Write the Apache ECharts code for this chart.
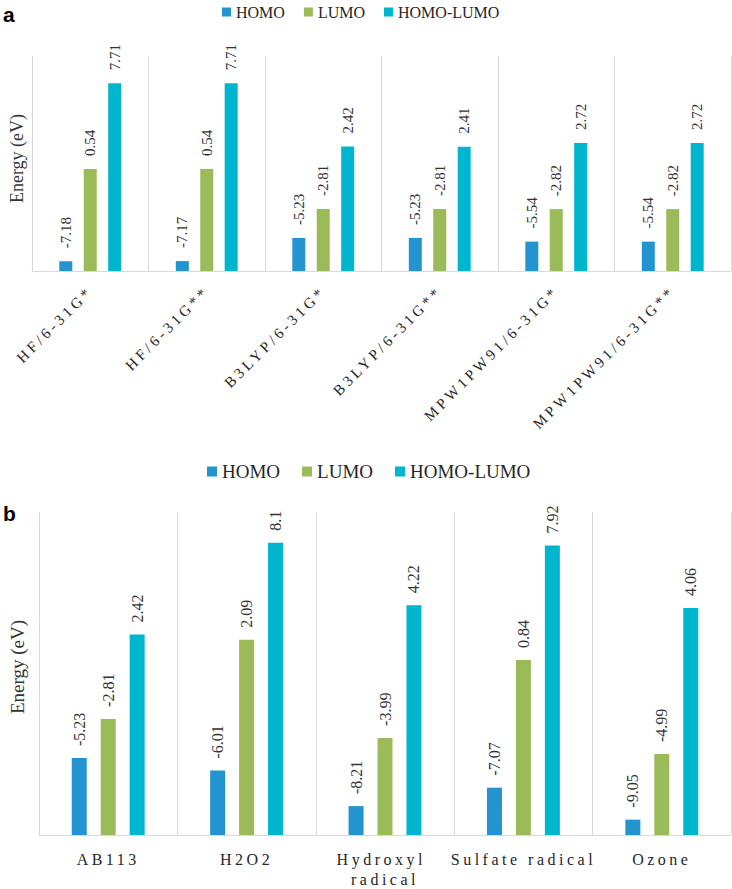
<!DOCTYPE html>
<html><head><meta charset="utf-8">
<script src="https://cdn.jsdelivr.net/npm/echarts@6/dist/echarts.min.js"></script>
<style>html,body{margin:0;padding:0;background:#fff}#c{width:732px;height:889px}</style>
</head><body><div id="c"></div>
<script>
const seriesNames = ['HOMO', 'LUMO', 'HOMO-LUMO'];
const methodsA = ['HF/6-31G*', 'HF/6-31G**', 'B3LYP/6-31G*', 'B3LYP/6-31G**', 'MPW1PW91/6-31G*', 'MPW1PW91/6-31G**'];
const homoA = [-7.18, -7.17, -5.23, -5.23, -5.54, -5.54];
const lumoA = [0.54, 0.54, -2.81, -2.81, -2.82, -2.82];
const gapA = [7.71, 7.71, 2.42, 2.41, 2.72, 2.72];
const speciesB = ['AB113', 'H2O2', 'Hydroxyl radical', 'Sulfate radical', 'Ozone'];
const homoB = [-5.23, -6.01, -8.21, -7.07, -9.05];
const lumoB = [-2.81, 2.09, -3.99, 0.84, -4.99];
const gapB = [2.42, 8.1, 4.22, 7.92, 4.06];
const colors = ['#2494d0', '#9bbb59', '#00b6cf'];
const SERIF = 'Liberation Serif';
const SANS = 'Liberation Sans';

function mkSeries(name, data, idx, color, bw, gap, fs, dist) {
  return {
    name: name, type: 'bar', xAxisIndex: idx, yAxisIndex: idx, data: data,
    barWidth: bw, barGap: gap, itemStyle: { color: color },
    label: {
      show: true, position: 'top', distance: dist, rotate: 90,
      align: 'left', verticalAlign: 'middle',
      fontSize: fs, fontFamily: SERIF, color: '#333'
    }
  };
}

const chart = echarts.init(document.getElementById('c'), null, { renderer: 'svg' });
chart.setOption({
  animation: false,
  color: colors,
  textStyle: { fontFamily: SERIF },
  title: [
    { text: 'a', left: 3, top: 4, padding: 0, textStyle: { fontSize: 21, fontWeight: 'bold', fontFamily: SANS, color: '#000' } },
    { text: 'b', left: 3, top: 503, padding: 0, textStyle: { fontSize: 21, fontWeight: 'bold', fontFamily: SANS, color: '#000' } }
  ],
  legend: [
    { data: seriesNames, top: 4, left: 222, icon: 'rect', itemWidth: 9, itemHeight: 9, itemGap: 19, padding: 0,
      textStyle: { fontSize: 16, fontFamily: SERIF, color: '#262626' } },
    { data: seriesNames, top: 462, left: 207, icon: 'rect', itemWidth: 10, itemHeight: 10, itemGap: 22, padding: 0,
      textStyle: { fontSize: 19, fontFamily: SERIF, color: '#262626' } }
  ],
  grid: [
    { left: 24.5, right: 1, top: 56, height: 215 },
    { left: 32, right: 1, top: 512, height: 330 }
  ],
  xAxis: [
    { type: 'category', gridIndex: 0, data: methodsA,
      axisLine: { onZero: false, lineStyle: { color: '#d9d9d9' } }, axisTick: { show: false },
      splitLine: { show: true, lineStyle: { color: '#d9d9d9' } },
      axisLabel: { interval: 0, rotate: 45, margin: 18, fontSize: 15, fontFamily: SERIF, color: '#262626' } },
    { type: 'category', gridIndex: 1, data: speciesB,
      axisLine: { onZero: false, lineStyle: { color: '#d9d9d9' } }, axisTick: { show: false },
      splitLine: { show: true, lineStyle: { color: '#d9d9d9' } },
      axisLabel: { interval: 0, margin: 14, fontSize: 16, lineHeight: 20, width: 100, overflow: 'break', fontFamily: SERIF, color: '#262626' } }
  ],
  yAxis: [
    { type: 'value', gridIndex: 0, min: -8, max: 10, startValue: -8,
      axisLabel: { show: false }, axisLine: { show: false }, axisTick: { show: false }, splitLine: { show: false },
      name: 'Energy (eV)', nameLocation: 'middle', nameGap: 6,
      nameTextStyle: { fontSize: 18, fontFamily: SERIF, color: '#333', padding: [0, 0, 0, 10] } },
    { type: 'value', gridIndex: 1, min: -10, max: 10, startValue: -10,
      axisLabel: { show: false }, axisLine: { show: false }, axisTick: { show: false }, splitLine: { show: false },
      name: 'Energy (eV)', nameLocation: 'middle', nameGap: 12,
      nameTextStyle: { fontSize: 19, fontFamily: SERIF, color: '#333', padding: [0, 0, 0, 13] } }
  ],
  series: [
    mkSeries(seriesNames[0], homoA, 0, colors[0], 13, '88%', 15, 13),
    mkSeries(seriesNames[1], lumoA, 0, colors[1], 13, '88%', 15, 13),
    mkSeries(seriesNames[2], gapA, 0, colors[2], 13, '88%', 15, 13),
    mkSeries(seriesNames[0], homoB, 1, colors[0], 15, '93%', 16, 12),
    mkSeries(seriesNames[1], lumoB, 1, colors[1], 15, '93%', 16, 12),
    mkSeries(seriesNames[2], gapB, 1, colors[2], 15, '93%', 16, 12)
  ]
});

const spacedLines = methodsA.concat(['AB113', 'H2O2', 'Hydroxyl', 'radical', 'Sulfate radical', 'Ozone']);
function applySpacing() {
  document.querySelectorAll('#c svg text').forEach(function (t) {
    const s = (t.textContent || '').trim();
    if (spacedLines.indexOf(s) >= 0) t.setAttribute('letter-spacing', '3.5');
  });
}
chart.on('finished', applySpacing);
setTimeout(applySpacing, 50);
</script>
</body></html>
